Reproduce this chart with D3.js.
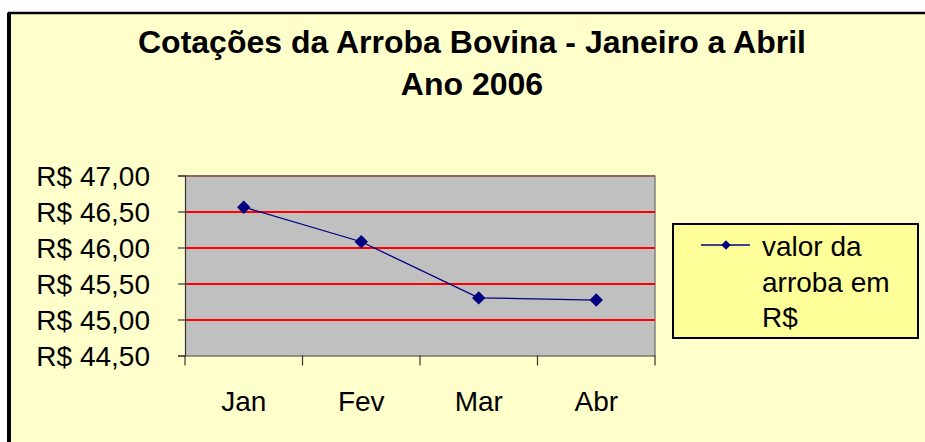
<!DOCTYPE html>
<html><head><meta charset="utf-8">
<script src="https://cdn.jsdelivr.net/npm/d3@7"></script>
<style>html,body{margin:0;padding:0;background:#fff;}svg{display:block;}</style>
</head><body>
<script>
const categories = ["Jan", "Fev", "Mar", "Abr"];
const values = [46.56, 46.08, 45.30, 45.27];
const yTicks = [44.5, 45.0, 45.5, 46.0, 46.5, 47.0];
const titleLines = ["Cotações da Arroba Bovina - Janeiro a Abril", "Ano 2006"];
const legendLines = ["valor da", "arroba em", "R$"];

(function () {
const W = 925, H = 442;
const font = "Arial, 'Liberation Sans', sans-serif";
const svg = d3.select("body").append("svg").attr("width", W).attr("height", H);

// outer chart area
svg.append("rect").attr("x", 9).attr("y", 13).attr("width", 930).attr("height", 440)
  .attr("fill", "#FFFFCC").attr("stroke", "#000").attr("stroke-width", 2.5);
svg.append("rect").attr("x", 7).attr("y", 13).attr("width", 4).attr("height", 440).attr("fill", "#000");

// title
svg.append("g").selectAll("text").data(titleLines).join("text")
  .attr("x", 472).attr("y", (d, i) => 53 + i * 42)
  .attr("text-anchor", "middle").attr("font-family", font).attr("font-weight", "bold")
  .attr("font-size", 32).attr("fill", "#000").text(d => d);

const pL = 185, pR = 655, pT = 175.5, pB = 355.5;
const x = d3.scaleBand().domain(categories).range([pL, pR]);
const y = d3.scaleLinear().domain([44.5, 47]).range([pB, pT]);

// plot area
svg.append("rect").attr("x", pL).attr("y", pT).attr("width", pR - pL).attr("height", pB - pT)
  .attr("fill", "#C0C0C0");
svg.append("line").attr("x1", pR).attr("x2", pR).attr("y1", pT).attr("y2", pB)
  .attr("stroke", "#808080").attr("stroke-width", 1.5);

// gridlines
svg.append("g").selectAll("line").data(yTicks.filter(t => t > 44.5)).join("line")
  .attr("x1", pL).attr("x2", pR).attr("y1", d => y(d)).attr("y2", d => y(d))
  .attr("shape-rendering", "crispEdges")
  .attr("stroke", d => d === 47 ? "#9a6060" : "#FF0000").attr("stroke-width", 2);

// y axis
const yAxis = svg.append("g").attr("transform", `translate(${pL},0)`)
  .call(d3.axisLeft(y).tickValues(yTicks).tickSize(7).tickPadding(28)
    .tickFormat(d => "R$ " + d3.format(".2f")(d).replace(".", ",")));
yAxis.select(".domain").attr("stroke", "#333").attr("stroke-width", 1.2);
yAxis.selectAll(".tick line").attr("stroke", "#333").attr("stroke-width", 1.2);
yAxis.selectAll("text").attr("font-family", font).attr("font-size", 28).attr("fill", "#000").attr("dy", "0.36em");

// x axis
const xAxis = svg.append("g").attr("transform", `translate(0,${pB})`)
  .call(d3.axisBottom(x).tickSize(0).tickPadding(36));
xAxis.select(".domain").attr("stroke", "#333").attr("stroke-width", 1.2);
xAxis.selectAll("text").attr("font-family", font).attr("font-size", 28).attr("fill", "#000");
const bounds = categories.map(c => x(c)).concat([x(categories[categories.length - 1]) + x.bandwidth()]);
svg.append("g").selectAll("line").data(bounds).join("line")
  .attr("x1", d => d).attr("x2", d => d).attr("y1", pB).attr("y2", pB + 10)
  .attr("stroke", "#333").attr("stroke-width", 1.2);

// line
const cx = (d, i) => x(categories[i]) + x.bandwidth() / 2;
svg.append("path").datum(values)
  .attr("d", d3.line().x(cx).y(d => y(d)))
  .attr("fill", "none").attr("stroke", "#000080").attr("stroke-width", 1.3);
svg.append("g").selectAll("path").data(values).join("path")
  .attr("d", d3.symbol().type(d3.symbolSquare).size(90)())
  .attr("transform", (d, i) => `translate(${cx(d, i)},${y(d)}) rotate(45)`)
  .attr("fill", "#000080");

// legend
svg.append("rect").attr("x", 673).attr("y", 224).attr("width", 245).attr("height", 114)
  .attr("fill", "#FFFF99").attr("stroke", "#000").attr("stroke-width", 2);
svg.append("line").attr("x1", 701).attr("x2", 750).attr("y1", 245).attr("y2", 245)
  .attr("stroke", "#000080").attr("stroke-width", 1.3);
svg.append("path").attr("d", d3.symbol().type(d3.symbolSquare).size(45)())
  .attr("transform", "translate(726,245) rotate(45)").attr("fill", "#000080");
svg.append("g").selectAll("text").data(legendLines).join("text")
  .attr("x", 762).attr("y", (d, i) => 256 + i * 35.5)
  .attr("font-family", font).attr("font-size", 28).attr("fill", "#000").text(d => d);
})();
</script>
</body></html>
